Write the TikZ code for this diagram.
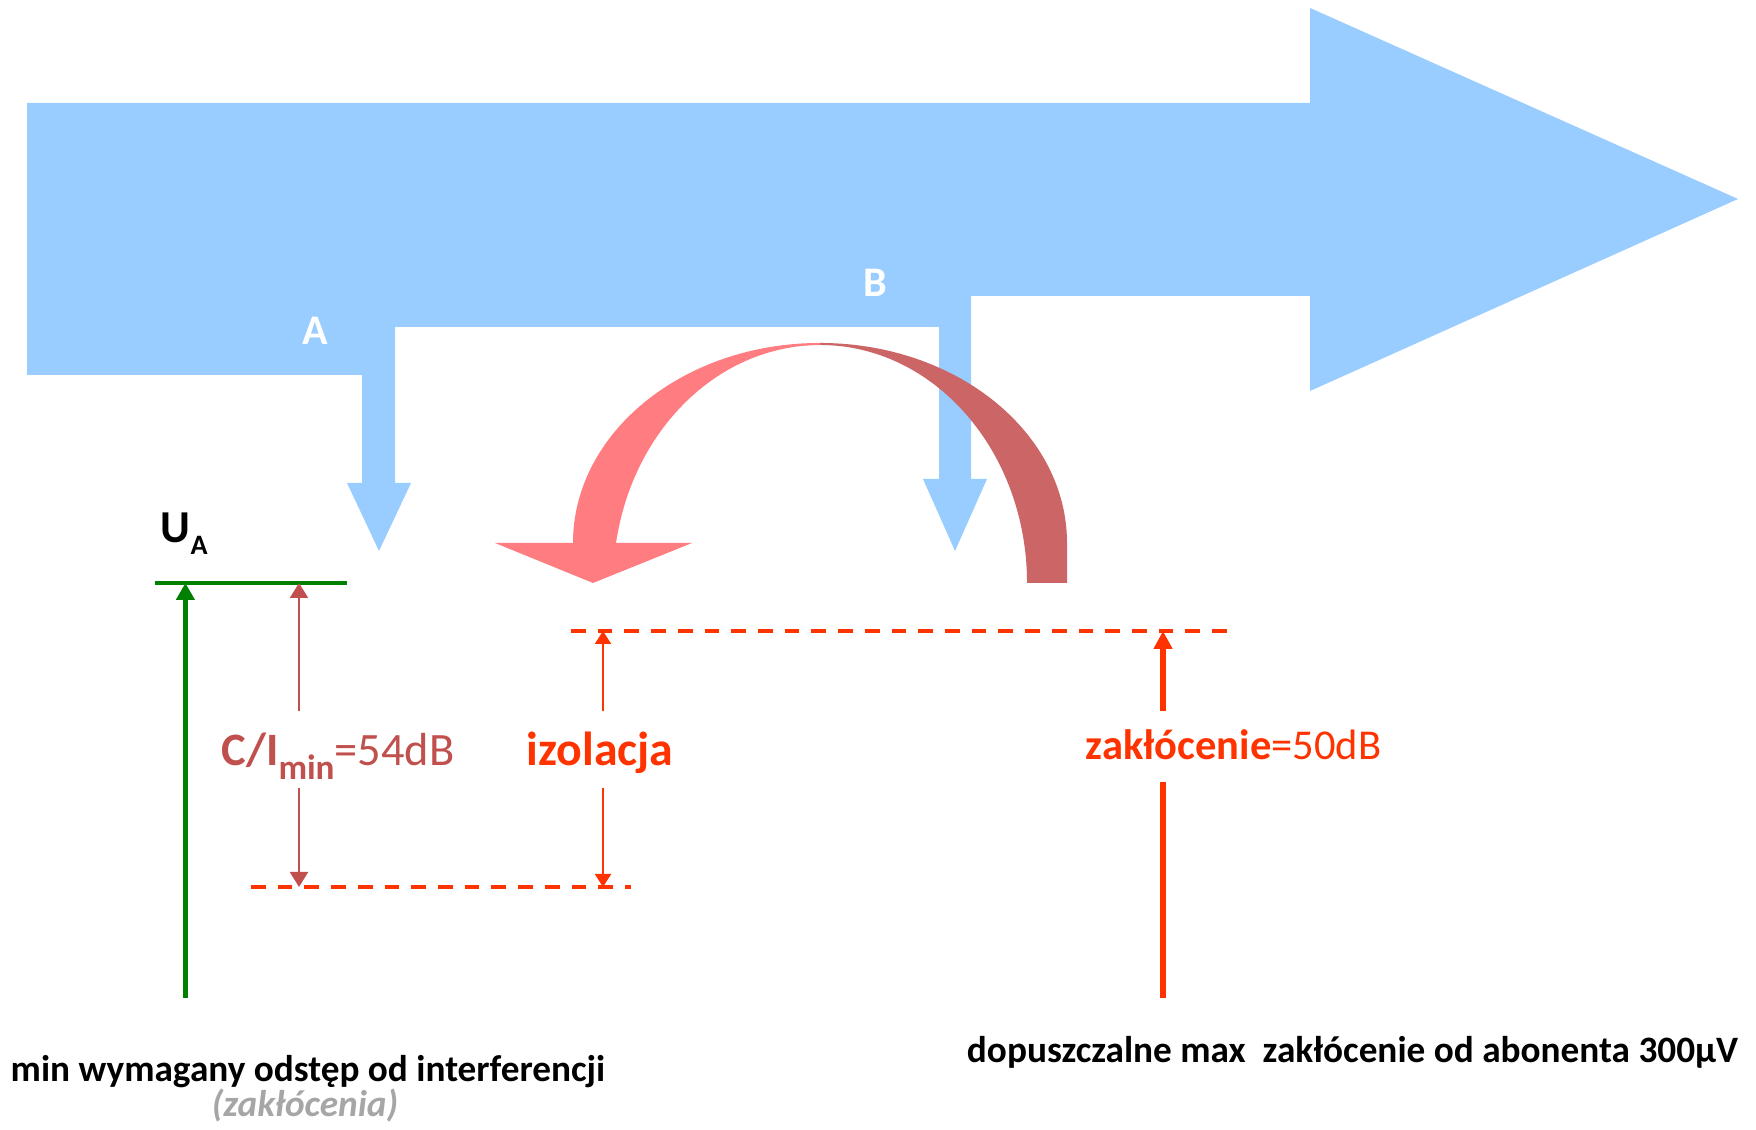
\documentclass[tikz,border=0pt]{standalone}
\usepackage{fontspec}
\setmainfont{Carlito}
\usetikzlibrary{arrows.meta,positioning}
\definecolor{flowblue}{HTML}{99CCFF}
\definecolor{coral}{HTML}{FF7C80}
\definecolor{coraldark}{HTML}{CC6666}
\definecolor{levelgreen}{HTML}{008000}
\definecolor{ratio}{HTML}{C0504D}
\definecolor{noise}{HTML}{FF3300}
\definecolor{note}{HTML}{A6A6A6}
\tikzset{
  level/.style={draw=noise, line width=1.1pt, dash pattern=on 4.2pt off 3.4pt},
  signal/.style={draw=levelgreen, line width=1.4pt},
  ratiodim/.style={-{Triangle[length=1.5mm,width=1.8mm]}, draw=ratio, fill=ratio, line width=0.6pt},
  isodim/.style={-{Triangle[length=1.3mm,width=1.6mm]}, draw=noise, fill=noise, line width=0.6pt},
  noisedim/.style={-{Triangle[length=1.8mm,width=1.8mm]}, draw=noise, fill=noise, line width=1.7pt},
  taplabel/.style={font=\fontsize{12}{14}\selectfont\bfseries, text=white, inner sep=0pt, anchor=base},
  bigtext/.style={font=\fontsize{13.2}{15}\selectfont, inner sep=0pt, anchor=base},
  foot/.style={font=\fontsize{10.6}{13}\selectfont\bfseries, inner sep=0pt, anchor=base},
}

\begin{document}
\begin{tikzpicture}[x=1cm,y=1cm]
\useasboundingbox (0,0) rectangle (17.56,11.30);
\fill[white] (0,0) rectangle (17.56,11.30);

% -----------------------------------------------------------------------------
% main path with the taps A and B
% -----------------------------------------------------------------------------
\fill[flowblue] (0.27,10.27) -- (13.10,10.27) -- (13.10,11.22) -- (17.38,9.31)
  -- (13.10,7.39) -- (13.10,8.34) -- (9.71,8.34) -- (9.71,6.51) -- (9.87,6.51)
  -- (9.55,5.79) -- (9.23,6.51) -- (9.39,6.51) -- (9.39,8.03) -- (3.95,8.03)
  -- (3.95,6.47) -- (4.11,6.47) -- (3.79,5.79) -- (3.47,6.47) -- (3.62,6.47)
  -- (3.62,7.55) -- (0.27,7.55) -- cycle;
\node[taplabel] (tapA) at (3.15,7.85) {A};
\node[taplabel] (tapB) at (8.75,8.33) {B};

% curved arrow from B back to A
\fill[coraldark] (8.20,7.87) arc[start angle=90,end angle=0,x radius=2.47,y radius=2.00]
  -- (10.67,5.47) -- (10.27,5.47)
  arc[start angle=0,end angle=90,x radius=2.07,y radius=2.38] -- cycle;
\fill[coral] (8.20,7.87) arc[start angle=90,end angle=180,x radius=2.47,y radius=2.00]
  -- (4.95,5.87) -- (5.93,5.47) -- (6.92,5.87) -- (6.16,5.87)
  arc[start angle=170.3,end angle=90,x radius=2.07,y radius=2.38] -- cycle;

% -----------------------------------------------------------------------------
% levels
% -----------------------------------------------------------------------------
\coordinate (uaL) at (1.55,5.47);
\coordinate (uaR) at (3.47,5.47);
\coordinate (isoL) at (5.71,4.99);
\coordinate (isoR) at (12.29,4.99);
\coordinate (ciL) at (2.51,2.43);
\coordinate (ciR) at (6.31,2.43);
\draw[signal] (uaL) -- (uaR);
\draw[level] (isoL) -- (isoR);
\draw[level] (ciL) -- (ciR);

\node[bigtext, font=\fontsize{13}{15}\selectfont\bfseries, anchor=base west] (ua) at (1.60,5.87)
  {U\raisebox{-0.25em}{\fontsize{8}{9}\selectfont A}};
\coordinate (uaFoot) at (1.854,1.32);
\draw[signal, -{Triangle[length=1.7mm,width=1.8mm]}] (uaFoot) -- (uaFoot |- uaL);

% C/I
\node[bigtext, text=ratio] (cilab) at (3.38,3.64)
  {\bfseries C/I\raisebox{-0.3em}{\fontsize{10}{11}\selectfont min}\mdseries=54dB};
\coordinate (ciT) at (2.99,4.19);
\coordinate (ciB) at (2.99,3.42);
\draw[ratiodim] (ciT) -- (ciT |- uaL);
\draw[ratiodim] (ciB) -- (ciB |- ciL);

% isolation
\node[bigtext, text=noise, font=\fontsize{13.6}{16}\selectfont\bfseries] (isolab) at (6.00,3.64) {izolacja};
\coordinate (isoT) at (6.03,4.19);
\coordinate (isoB) at (6.03,3.42);
\draw[isodim] (isoT) -- (isoT |- isoL);
\draw[isodim] (isoB) -- (isoB |- ciL);

% interference from the subscriber
\node[bigtext, text=noise, font=\fontsize{12.1}{14}\selectfont] (nlab) at (12.335,3.70)
  {\bfseries zakłócenie\mdseries=50dB};
\coordinate (nT) at (11.63,4.19);
\coordinate (nB) at (11.63,3.48);
\coordinate (nFoot) at (11.63,1.32);
\draw[noisedim] (nT) -- (nT |- isoL);
\draw[noise, line width=1.7pt] (nB) -- (nFoot);

% -----------------------------------------------------------------------------
% notes
% -----------------------------------------------------------------------------
\node[foot] (leftnote) at (3.08,0.48) {min wymagany odstęp od interferencji};
\node[foot, text=note, font=\fontsize{10.6}{13}\selectfont\bfseries\itshape] (leftsub) at (3.05,0.13) {(zakłócenia)};
\node[foot] (rightnote) at (13.525,0.67) {dopuszczalne max\ \ zakłócenie od abonenta 300µV};

\end{tikzpicture}
\end{document}
